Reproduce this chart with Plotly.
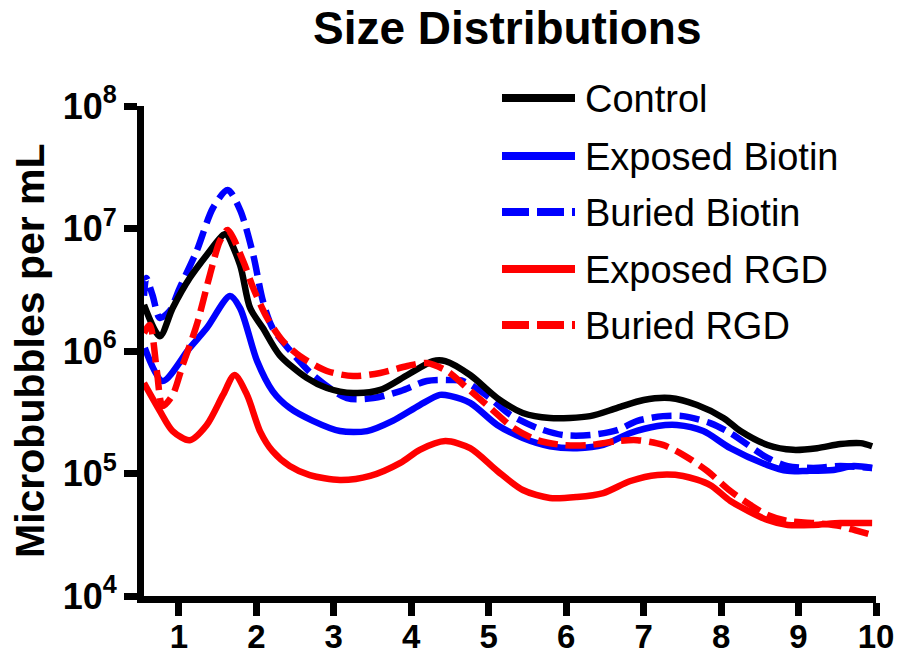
import plotly.graph_objects as go

# ---------------- data ----------------
series_names = ["Control", "Exposed Biotin", "Buried Biotin", "Exposed RGD", "Buried RGD"]

control_x = [0.55, 0.755, 0.92, 1.14, 1.36, 1.57, 1.61, 1.79, 1.92, 2.085, 2.30, 2.65, 2.91,
             3.25, 3.60, 3.95, 4.28, 4.44, 4.76, 5.11, 5.44, 5.79, 6.31, 6.66, 7.0, 7.34,
             7.69, 8.03, 8.25, 8.60, 8.93, 9.24, 9.54, 9.80, 9.95]
control_y = [2.38e6, 1.32e6, 2.24e6, 3.94e6, 6.08e6, 8.85e6, 9.0e6, 5.04e6, 2.24e6, 1.54e6,
             9.27e5, 6.03e5, 4.99e5, 4.54e5, 4.81e5, 6.37e5, 8.28e5, 8.28e5, 6.37e5, 4.13e5,
             3.12e5, 2.84e5, 2.94e5, 3.43e5, 3.98e5, 4.13e5, 3.62e5, 2.84e5, 2.22e5, 1.71e5,
             1.56e5, 1.61e5, 1.74e5, 1.77e5, 1.67e5]

exp_biotin_x = [0.56, 0.79, 1.14, 1.36, 1.66, 1.79, 2.01, 2.21, 2.43, 2.73, 3.08, 3.43, 3.76,
                4.11, 4.37, 4.50, 4.76, 5.11, 5.44, 5.79, 6.14, 6.48, 6.83, 7.18, 7.43, 7.77,
                8.12, 8.60, 8.86, 9.11, 9.45, 9.71, 9.95]
exp_biotin_y = [1.06e6, 5.69e5, 1.06e6, 1.54e6, 2.81e6, 2.24e6, 8.28e5, 4.71e5, 3.43e5, 2.69e5,
                2.22e5, 2.22e5, 2.69e5, 3.62e5, 4.38e5, 4.30e5, 3.77e5, 2.49e5, 1.95e5, 1.67e5,
                1.61e5, 1.71e5, 2.14e5, 2.44e5, 2.49e5, 2.22e5, 1.61e5, 1.17e5, 1.05e5, 1.05e5,
                1.07e5, 1.15e5, 1.11e5]

bur_biotin_x = [0.55, 0.58, 0.66, 0.755, 0.88, 1.01, 1.23, 1.44, 1.63, 1.79, 1.96, 2.085, 2.21,
                2.43, 2.73, 3.17, 3.51, 3.86, 4.20, 4.50, 4.67, 4.98, 5.28, 5.63, 5.96, 6.31,
                6.66, 6.92, 7.25, 7.51, 7.86, 8.12, 8.60, 8.86, 9.19, 9.54, 9.95]
bur_biotin_y = [2.82e6, 3.94e6, 2.86e6, 1.86e6, 2.12e6, 3.27e6, 6.55e6, 1.47e7, 2.06e7, 1.42e7,
                6.08e6, 2.56e6, 1.54e6, 1.02e6, 6.37e5, 4.13e5, 4.13e5, 4.71e5, 5.69e5, 5.79e5,
                5.69e5, 4.30e5, 3.01e5, 2.35e5, 2.06e5, 2.06e5, 2.26e5, 2.69e5, 2.94e5, 2.94e5,
                2.58e5, 2.14e5, 1.34e5, 1.15e5, 1.11e5, 1.15e5, 1.11e5]

exp_rgd_x = [0.55, 0.755, 0.92, 1.14, 1.36, 1.57, 1.72, 1.88, 2.05, 2.21, 2.43, 2.69, 3.08,
             3.47, 3.86, 4.11, 4.44, 4.76, 5.11, 5.44, 5.79, 6.14, 6.48, 6.83, 7.18, 7.51,
             7.86, 8.12, 8.60, 8.86, 9.19, 9.54, 9.95]
exp_rgd_y = [5.48e5, 3.24e5, 2.22e5, 1.87e5, 2.49e5, 4.38e5, 6.37e5, 4.38e5, 2.20e5, 1.52e5,
             1.15e5, 9.70e4, 8.85e4, 9.55e4, 1.22e5, 1.56e5, 1.84e5, 1.61e5, 1.05e5, 7.33e4,
             6.31e4, 6.43e4, 6.93e4, 8.69e4, 9.73e4, 9.55e4, 8.05e4, 5.97e4, 4.17e4, 3.80e4,
             3.80e4, 3.94e4, 3.94e4]

bur_rgd_x = [0.55, 0.625, 0.716, 0.79, 0.92, 1.05, 1.23, 1.40, 1.53, 1.63, 1.83, 1.96, 2.14,
             2.34, 2.56, 2.91, 3.25, 3.60, 3.95, 4.20, 4.46, 4.72, 5.02, 5.32, 5.63, 5.96,
             6.31, 6.66, 6.92, 7.25, 7.51, 7.82, 8.12, 8.38, 8.60, 8.86, 9.19, 9.54, 9.76, 9.95]
bur_rgd_y = [1.40e6, 1.63e6, 6.87e5, 3.56e5, 4.38e5, 7.69e5, 1.63e6, 4.17e6, 7.91e6, 9.72e6,
             5.43e6, 3.27e6, 1.86e6, 1.21e6, 9.10e5, 6.87e5, 6.25e5, 6.61e5, 7.55e5, 7.98e5,
             6.87e5, 4.99e5, 3.43e5, 2.35e5, 1.87e5, 1.71e5, 1.71e5, 1.84e5, 1.87e5, 1.71e5,
             1.42e5, 1.05e5, 7.19e4, 5.53e4, 4.58e4, 4.09e4, 3.94e4, 3.72e4, 3.40e4, 3.15e4]

x_tick_vals = [1, 2, 3, 4, 5, 6, 7, 8, 9, 10]
x_tick_text = ["1", "2", "3", "4", "5", "6", "7", "8", "9", "10"]
y_tick_vals = [1e4, 1e5, 1e6, 1e7, 1e8]
y_tick_text = ["10<sup>4</sup>", "10<sup>5</sup>", "10<sup>6</sup>", "10<sup>7</sup>", "10<sup>8</sup>"]

title_text = "Size Distributions"
y_title_text = "Microbubbles per mL"

# ---------------- styling ----------------
colors = ["#000000", "#0000FF", "#0000FF", "#FF0000", "#FF0000"]
dashes = ["solid", "solid", "20px,8px", "solid", "20px,8px"]
xs = [control_x, exp_biotin_x, bur_biotin_x, exp_rgd_x, bur_rgd_x]
ys = [control_y, exp_biotin_y, bur_biotin_y, exp_rgd_y, bur_rgd_y]

W, H = 900, 657
L, R, T, B = 144, 24, 106, 61
pw, ph = W - L - R, H - T - B


def px2paper(px, py):
    return (px - L) / pw, (H - B - py) / ph


FONT = "Liberation Sans, Arial, sans-serif"

fig = go.Figure()
for i in [2, 1, 3, 0, 4]:
    fig.add_trace(go.Scatter(
        x=xs[i], y=ys[i], mode="lines", name=series_names[i],
        line=dict(color=colors[i], width=6.5, dash=dashes[i], shape="spline", smoothing=0.8),
        showlegend=False, hoverinfo="skip"))

# custom legend (long line samples as in the reference)
legend_py = [98, 156, 212, 269, 325]
shapes = []
annotations = []
for i, name in enumerate(series_names):
    x0, yy = px2paper(502, legend_py[i])
    x1, _ = px2paper(575, legend_py[i])
    shapes.append(dict(type="line", xref="paper", yref="paper", x0=x0, x1=x1, y0=yy, y1=yy,
                       line=dict(color=colors[i], width=8,
                                 dash="27px,8px" if dashes[i] != "solid" else "solid")))
    tx, ty = px2paper(583, legend_py[i] + 1)
    annotations.append(dict(text=name, xref="paper", yref="paper", x=tx, y=ty,
                            xanchor="left", yanchor="middle", showarrow=False,
                            font=dict(family=FONT, size=38, color="#000000")))

tx, ty = px2paper(507, 28)
annotations.append(dict(text="<b>" + title_text + "</b>", xref="paper", yref="paper",
                        x=tx, y=ty, xanchor="center", yanchor="middle", showarrow=False,
                        font=dict(family=FONT, size=46, color="#000000")))
ax_, ay_ = px2paper(30, 351)
annotations.append(dict(text="<b>" + y_title_text + "</b>", xref="paper", yref="paper",
                        x=ax_, y=ay_, xanchor="center", yanchor="middle", showarrow=False,
                        textangle=-90,
                        font=dict(family=FONT, size=41, color="#000000")))

fig.update_layout(
    width=W, height=H,
    margin=dict(l=L, r=R, t=T, b=B, pad=0, autoexpand=False),
    paper_bgcolor="white", plot_bgcolor="white",
    shapes=shapes, annotations=annotations,
    showlegend=False,
    xaxis=dict(range=[0.55, 10], tickvals=x_tick_vals, ticktext=x_tick_text, automargin=False,
               showgrid=False, zeroline=False, showline=True, linecolor="black", linewidth=7,
               ticks="outside", ticklen=13, tickwidth=7, tickcolor="black",
               ticklabelstandoff=-8,
               tickfont=dict(family=FONT, size=33, color="black", weight="bold")),
    yaxis=dict(type="log", range=[4, 8], tickvals=y_tick_vals, ticktext=y_tick_text,
               automargin=False,
               showgrid=False, zeroline=False, showline=True, linecolor="black", linewidth=7,
               ticks="outside", ticklen=13, tickwidth=7, tickcolor="black",
               tickfont=dict(family=FONT, size=36, color="black", weight="bold")),
)

fig.write_html("out.html", config={"displayModeBar": False},
               post_script="document.body.style.margin='0px';document.body.style.overflow='hidden';")
